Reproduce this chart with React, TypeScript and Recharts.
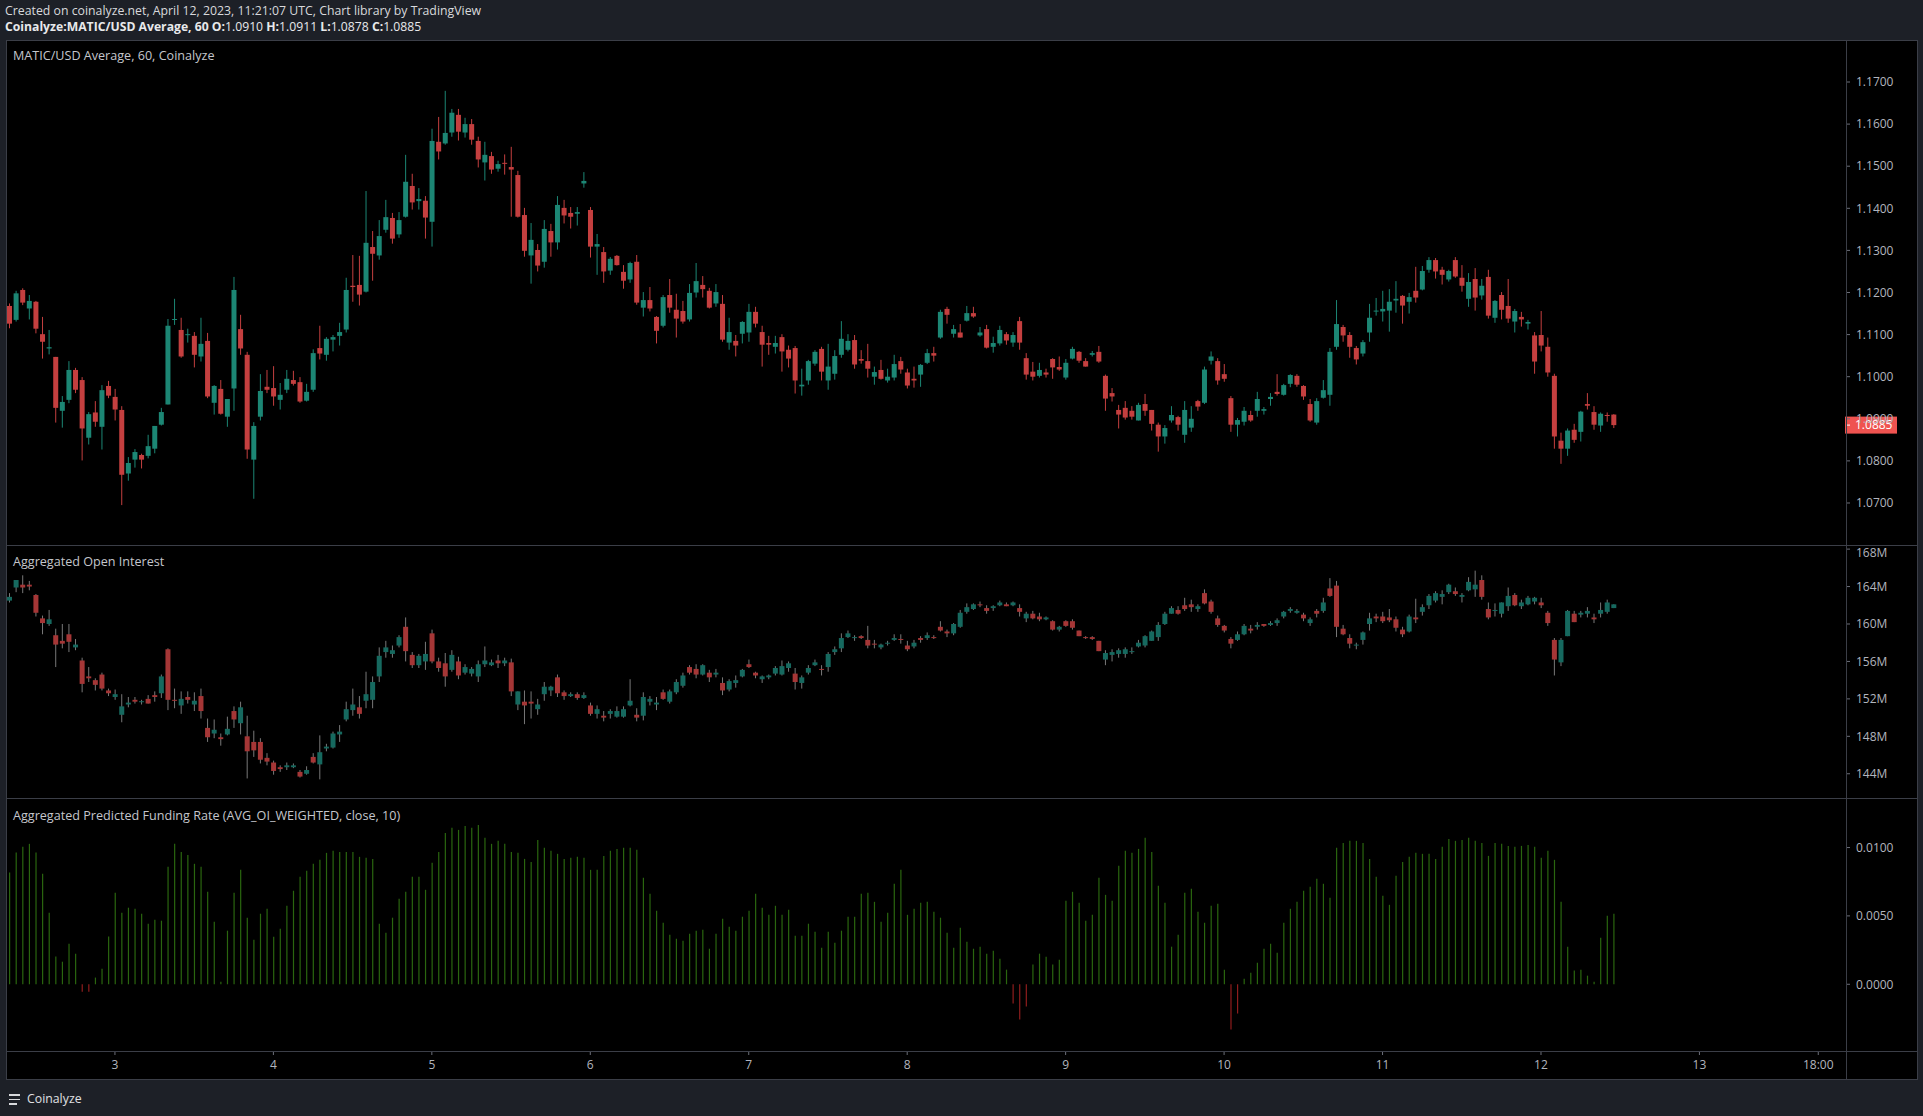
import { ComposedChart, Bar, XAxis, YAxis, Cell } from 'recharts';

// MATIC/USD Average, 1h candles, Apr 2 08:00 -> Apr 12 11:00 UTC (index 0 = Apr 2 08:00)
const priceOpen = [
  1.1168,1.1135,1.1206,1.1162,1.1178,1.1101,1.1067,1.1047,1.0919,1.0945,
  1.1016,1.0992,1.0855,1.0915,1.0881,1.0978,1.0952,1.0921,1.0770,1.0803,
  1.0814,1.0812,1.0829,1.0886,1.0934,1.1135,1.1111,1.1100,1.1097,1.1048,
  1.1085,1.0938,1.0971,1.0905,1.0972,1.1113,1.1052,1.0803,1.0905,1.0976,
  1.0973,1.0945,1.0969,1.0992,1.0987,1.0943,1.0969,1.1068,1.1052,1.1088,
  1.1097,1.1112,1.1216,1.1218,1.1202,1.1308,1.1288,1.1349,1.1377,1.1338,
  1.1380,1.1453,1.1417,1.1418,1.1368,1.1558,1.1554,1.1580,1.1622,1.1580,
  1.1600,1.1560,1.1509,1.1524,1.1494,1.1508,1.1498,1.1479,1.1384,1.1288,
  1.1301,1.1273,1.1346,1.1319,1.1401,1.1389,1.1387,1.1459,1.1396,1.1309,
  1.1296,1.1252,1.1287,1.1249,1.1231,1.1273,1.1164,1.1182,1.1142,1.1121,
  1.1194,1.1159,1.1156,1.1136,1.1200,1.1218,1.1204,1.1174,1.1173,1.1081,
  1.1085,1.1102,1.1105,1.1154,1.1106,1.1080,1.1071,1.1094,1.1064,1.1068,
  1.0977,1.0991,1.1031,1.1066,1.0991,1.1007,1.1052,1.1064,1.1087,1.1042,
  1.1037,1.1000,1.1016,1.0991,1.0998,1.1037,1.1010,1.0995,1.1005,1.1033,
  1.1056,1.1093,1.1161,1.1102,1.1105,1.1133,1.1151,1.1098,1.1113,1.1071,
  1.1079,1.1101,1.1081,1.1132,1.1044,1.1012,1.1002,1.1010,1.1042,1.1023,
  1.0998,1.1043,1.1059,1.1037,1.1052,1.1059,1.1002,1.0961,1.0921,1.0926,
  1.0919,1.0896,1.0935,1.0921,1.0886,1.0858,1.0896,1.0904,1.0862,1.0879,
  1.0942,1.0938,1.1038,1.1037,1.1006,1.0949,1.0886,1.0893,1.0909,1.0919,
  1.0919,1.0947,1.0964,1.0957,1.0983,1.1002,1.0978,1.0935,1.0891,1.0950,
  1.0957,1.1071,1.1118,1.1099,1.1068,1.1055,1.1105,1.1155,1.1155,1.1157,
  1.1181,1.1192,1.1178,1.1204,1.1207,1.1254,1.1277,1.1254,1.1231,1.1277,
  1.1235,1.1185,1.1232,1.1193,1.1237,1.1140,1.1194,1.1168,1.1131,1.1142,
  1.1126,1.1098,1.1099,1.1071,1.1002,1.0848,1.0829,1.0874,1.0869,1.0935,
  1.0916,1.0884,1.0909,1.0910,
];
const priceHigh = [
  1.1174,1.1204,1.1210,1.1194,1.1180,1.1142,1.1111,1.1047,1.0954,1.1037,
  1.1021,1.0999,1.0916,1.0942,1.0980,1.0990,1.0971,1.0930,1.0809,1.0828,
  1.0817,1.0862,1.0883,1.0926,1.1137,1.1185,1.1140,1.1114,1.1106,1.1140,
  1.1104,1.0980,1.0992,1.0947,1.1237,1.1147,1.1059,1.0892,1.1006,1.1016,
  1.1025,1.0985,1.1016,1.1014,1.0999,1.0983,1.1065,1.1121,1.1094,1.1099,
  1.1128,1.1235,1.1289,1.1287,1.1441,1.1346,1.1372,1.1420,1.1389,1.1391,
  1.1527,1.1482,1.1448,1.1429,1.1589,1.1617,1.1679,1.1636,1.1636,1.1615,
  1.1612,1.1570,1.1558,1.1534,1.1513,1.1528,1.1546,1.1489,1.1401,1.1365,
  1.1315,1.1372,1.1363,1.1429,1.1420,1.1403,1.1403,1.1486,1.1403,1.1339,
  1.1308,1.1284,1.1289,1.1265,1.1273,1.1289,1.1201,1.1213,1.1144,1.1194,
  1.1232,1.1197,1.1180,1.1220,1.1270,1.1239,1.1211,1.1220,1.1194,1.1140,
  1.1099,1.1132,1.1173,1.1166,1.1121,1.1097,1.1097,1.1101,1.1074,1.1073,
  1.1019,1.1040,1.1063,1.1071,1.1078,1.1063,1.1132,1.1101,1.1099,1.1063,
  1.1078,1.1024,1.1040,1.1019,1.1052,1.1047,1.1019,1.1024,1.1030,1.1066,
  1.1071,1.1159,1.1166,1.1123,1.1125,1.1168,1.1166,1.1118,1.1123,1.1095,
  1.1121,1.1106,1.1106,1.1142,1.1056,1.1035,1.1033,1.1019,1.1044,1.1048,
  1.1042,1.1071,1.1061,1.1044,1.1061,1.1073,1.1005,1.0973,1.0933,1.0942,
  1.0930,1.0938,1.0959,1.0921,1.0891,1.0885,1.0930,1.0907,1.0942,1.0930,
  1.0945,1.1024,1.1060,1.1044,1.1030,1.0954,1.0902,1.0928,1.0919,1.0964,
  1.0928,1.0961,1.1006,1.0983,1.1006,1.1006,1.0980,1.0947,1.0949,1.0992,
  1.1068,1.1182,1.1123,1.1106,1.1073,1.1087,1.1173,1.1187,1.1204,1.1208,
  1.1227,1.1194,1.1199,1.1261,1.1263,1.1284,1.1282,1.1261,1.1254,1.1284,
  1.1265,1.1246,1.1258,1.1232,1.1254,1.1182,1.1201,1.1232,1.1161,1.1154,
  1.1135,1.1106,1.1156,1.1093,1.1007,1.0867,1.0877,1.0888,1.0919,1.0961,
  1.0930,1.0915,1.0915,1.0911,
];
const priceLow = [
  1.1115,1.1131,1.1170,1.1136,1.1103,1.1043,1.1053,1.0891,1.0879,1.0937,
  1.0961,1.0801,1.0839,1.0881,1.0827,1.0949,1.0896,1.0695,1.0753,1.0784,
  1.0782,1.0806,1.0818,1.0884,1.0934,1.1123,1.1045,1.1081,1.1022,1.1036,
  1.0949,1.0910,1.0910,1.0881,1.0919,1.1052,1.0805,1.0710,1.0896,1.0961,
  1.0931,1.0922,1.0961,1.0979,1.0938,1.0941,1.0964,1.1041,1.1038,1.1060,
  1.1074,1.1105,1.1178,1.1169,1.1200,1.1228,1.1278,1.1342,1.1316,1.1330,
  1.1378,1.1397,1.1397,1.1328,1.1309,1.1516,1.1551,1.1570,1.1561,1.1568,
  1.1551,1.1497,1.1466,1.1482,1.1487,1.1480,1.1380,1.1378,1.1285,1.1221,
  1.1250,1.1259,1.1285,1.1302,1.1364,1.1352,1.1359,1.1449,1.1283,1.1242,
  1.1223,1.1242,1.1264,1.1209,1.1223,1.1171,1.1143,1.1155,1.1079,1.1117,
  1.1152,1.1093,1.1126,1.1131,1.1188,1.1188,1.1162,1.1166,1.1083,1.1064,
  1.1048,1.1079,1.1083,1.1117,1.1024,1.1052,1.1055,1.1012,1.1022,1.0960,
  1.0955,1.0981,1.1026,1.0991,1.0969,1.0993,1.1045,1.1060,1.1019,1.1031,
  1.0998,1.0981,1.0993,1.0986,1.0991,1.1007,1.0972,1.0974,1.0976,1.1030,
  1.1036,1.1090,1.1126,1.1093,1.1093,1.1131,1.1140,1.1095,1.1067,1.1057,
  1.1074,1.1076,1.1071,1.1064,1.0993,1.0991,1.0998,1.0998,1.0995,1.1014,
  1.0993,1.1041,1.1033,1.1024,1.1048,1.1033,1.0919,1.0941,1.0877,1.0898,
  1.0898,1.0896,1.0907,1.0872,1.0822,1.0841,1.0891,1.0872,1.0843,1.0869,
  1.0919,1.0935,1.1029,1.0981,1.0988,1.0869,1.0858,1.0884,1.0893,1.0905,
  1.0910,1.0931,1.0955,1.0955,1.0975,1.0976,1.0945,1.0893,1.0886,1.0948,
  1.0931,1.1064,1.1083,1.1045,1.1029,1.1048,1.1083,1.1145,1.1131,1.1107,
  1.1152,1.1126,1.1150,1.1176,1.1205,1.1247,1.1233,1.1219,1.1226,1.1235,
  1.1202,1.1166,1.1157,1.1183,1.1138,1.1128,1.1136,1.1128,1.1105,1.1119,
  1.1112,1.1007,1.1060,1.1000,1.0829,1.0793,1.0812,1.0843,1.0846,1.0922,
  1.0874,1.0869,1.0893,1.0878,
];
const priceClose = [
  1.1126,1.1198,1.1176,1.1180,1.1114,1.1083,1.1070,1.0926,1.0940,1.1016,
  1.0969,1.0877,1.0911,1.0893,1.0968,1.0955,1.0922,1.0767,1.0795,1.0821,
  1.0803,1.0835,1.0883,1.0916,1.1121,1.1137,1.1048,1.1101,1.1052,1.1078,
  1.0953,1.0978,1.0912,1.0947,1.1206,1.1067,1.0827,1.0883,1.0966,1.0969,
  1.0953,1.0957,1.0995,1.0983,1.0941,1.0964,1.1056,1.1055,1.1090,1.1094,
  1.1106,1.1206,1.1213,1.1195,1.1318,1.1292,1.1334,1.1379,1.1328,1.1372,
  1.1463,1.1414,1.1422,1.1378,1.1560,1.1535,1.1579,1.1627,1.1582,1.1600,
  1.1563,1.1516,1.1527,1.1492,1.1505,1.1506,1.1492,1.1380,1.1299,1.1325,
  1.1264,1.1351,1.1319,1.1408,1.1383,1.1380,1.1391,1.1465,1.1309,1.1315,
  1.1250,1.1280,1.1265,1.1228,1.1270,1.1176,1.1182,1.1162,1.1109,1.1189,
  1.1164,1.1138,1.1131,1.1199,1.1227,1.1208,1.1164,1.1201,1.1088,1.1106,
  1.1074,1.1130,1.1154,1.1126,1.1076,1.1076,1.1080,1.1060,1.1043,1.0991,
  1.0981,1.1037,1.1059,1.1012,1.1024,1.1049,1.1090,1.1085,1.1029,1.1038,
  1.1019,1.1011,1.0995,1.1000,1.1030,1.1017,1.0979,1.0991,1.1028,1.1056,
  1.1050,1.1154,1.1147,1.1113,1.1093,1.1151,1.1143,1.1105,1.1069,1.1080,
  1.1111,1.1086,1.1099,1.1081,1.1005,1.1000,1.1016,1.1005,1.1022,1.1017,
  1.1033,1.1066,1.1038,1.1024,1.1056,1.1036,1.0948,1.0953,1.0910,1.0903,
  1.0905,1.0933,1.0919,1.0888,1.0858,1.0878,1.0909,1.0886,1.0921,1.0900,
  1.0929,1.1017,1.1048,1.0991,1.0995,1.0886,1.0897,1.0919,1.0896,1.0947,
  1.0923,1.0952,1.0959,1.0980,1.1004,1.0981,1.0953,1.0896,1.0942,1.0968,
  1.1059,1.1125,1.1098,1.1071,1.1041,1.1082,1.1140,1.1157,1.1161,1.1178,
  1.1185,1.1169,1.1189,1.1188,1.1251,1.1277,1.1250,1.1242,1.1251,1.1238,
  1.1216,1.1225,1.1188,1.1216,1.1145,1.1180,1.1159,1.1138,1.1156,1.1136,
  1.1130,1.1036,1.1074,1.1010,1.0858,1.0829,1.0872,1.0850,1.0917,1.0931,
  1.0886,1.0912,1.0907,1.0885,
];

// Aggregated open interest, millions
const oiOpen = [
  162.5,163.9,164.2,164.2,163.1,160.6,160.0,158.8,158.2,158.9,
  157.5,156.1,154.4,154.0,154.6,152.9,152.2,150.3,151.4,151.9,
  151.7,152.0,152.4,152.6,157.3,151.9,151.3,152.2,151.4,152.3,
  148.9,148.3,147.9,148.2,150.7,149.4,148.0,147.4,147.4,145.7,
  145.2,144.7,144.7,144.7,144.2,144.0,145.8,145.0,146.7,146.8,
  148.2,149.8,150.8,151.1,151.8,151.9,154.4,157.0,156.8,157.7,
  159.7,156.7,155.6,156.0,159.0,156.0,155.8,155.1,156.0,154.8,
  154.7,154.4,155.7,155.6,156.1,155.8,155.9,151.4,151.7,151.7,
  150.9,152.5,152.9,154.3,152.7,152.3,152.5,152.1,151.3,150.4,
  150.2,150.4,150.1,150.1,151.3,150.3,150.2,151.7,151.4,152.7,
  151.7,152.7,153.4,155.4,155.2,154.6,154.8,154.6,153.7,153.0,
  153.7,154.4,155.7,154.8,154.1,154.3,154.7,154.6,155.3,154.7,
  153.7,154.8,155.6,155.2,155.4,157.0,157.4,158.6,158.5,158.7,
  158.3,157.9,157.5,157.9,158.3,158.4,157.7,157.6,158.5,158.5,
  158.6,159.7,159.2,159.0,159.7,161.3,161.6,162.1,161.7,161.7,
  162.0,162.1,162.0,161.7,160.6,161.1,160.8,160.5,160.3,159.4,
  160.3,160.3,159.3,158.6,158.6,158.2,156.2,156.7,156.8,156.8,
  157.0,157.6,157.7,158.2,158.6,160.0,161.1,161.5,162.0,162.1,
  161.6,163.3,162.4,160.6,159.8,158.4,158.3,158.9,159.5,159.7,
  160.0,159.9,160.1,160.8,161.4,161.2,161.0,160.1,161.4,161.4,
  163.8,164.1,159.5,158.5,157.7,158.3,160.0,160.8,160.8,160.7,
  160.5,159.4,159.2,160.7,161.3,162.0,162.5,162.9,163.4,163.5,
  162.9,163.6,163.7,164.7,161.6,161.4,161.1,161.9,163.1,161.9,
  162.1,162.4,162.3,161.2,158.3,155.9,158.7,161.1,161.0,161.1,
  160.7,161.1,161.3,161.7,
];
const oiHigh = [
  163.3,164.7,165.2,164.6,163.2,160.9,161.5,159.5,160.0,160.0,
  158.4,156.4,155.4,154.2,154.8,153.1,153.0,152.5,152.2,152.2,
  151.9,152.4,152.8,154.6,157.4,153.1,152.8,152.8,152.7,153.1,
  149.9,149.8,148.3,150.1,151.2,151.7,150.2,148.6,147.8,146.2,
  145.4,144.9,145.2,145.1,144.4,144.8,146.2,148.1,147.2,148.5,
  149.2,151.7,153.1,152.3,154.9,154.4,157.5,158.2,157.7,158.8,
  160.7,157.0,156.8,158.1,159.4,156.4,156.9,157.2,156.5,155.7,
  155.4,156.1,157.6,156.2,156.7,156.4,156.3,152.8,152.9,152.8,
  152.0,153.8,153.4,154.6,152.9,152.7,152.7,152.7,151.6,151.3,
  150.7,150.9,151.2,151.2,154.1,151.0,152.7,152.3,152.2,153.0,
  153.0,154.1,154.8,155.6,155.7,155.7,155.1,155.2,154.3,154.1,
  154.5,155.2,156.2,154.9,154.5,154.6,155.5,156.1,156.0,155.3,
  154.5,155.6,156.2,155.6,157.0,157.6,159.0,159.3,158.8,158.8,
  159.8,158.3,157.9,158.2,158.9,158.9,158.2,158.3,158.7,159.1,
  158.8,160.3,159.4,160.1,161.5,162.2,162.2,162.4,162.0,162.0,
  162.5,162.3,162.4,162.1,161.3,161.4,161.2,160.8,160.4,159.8,
  160.4,160.5,159.3,158.7,158.7,158.2,157.2,157.3,157.4,157.5,
  157.5,158.3,158.8,159.3,160.2,161.3,161.9,161.9,162.8,162.6,
  162.1,163.7,162.6,160.9,159.9,158.6,159.2,160.0,159.9,160.2,
  160.0,160.3,160.6,161.4,161.8,161.6,161.2,160.7,161.6,162.8,
  164.9,164.6,159.9,158.9,158.0,159.2,161.2,161.1,161.3,161.6,
  160.8,159.7,161.0,162.7,162.1,163.2,163.5,163.6,164.3,163.9,
  163.3,165.0,165.7,165.2,162.3,162.2,162.3,163.9,163.3,162.6,
  163.0,162.9,162.8,161.4,158.5,158.5,161.5,161.4,161.4,161.8,
  161.1,162.3,162.6,162.1,
];
const oiLow = [
  162.3,163.4,163.3,163.6,160.8,158.9,159.8,155.4,157.4,157.0,
  157.2,152.7,153.8,152.9,152.9,152.3,151.9,149.5,151.1,151.5,
  151.4,151.5,151.7,152.1,150.8,151.0,150.4,151.5,150.7,149.9,
  147.4,147.8,147.0,148.1,148.9,148.2,143.5,145.8,145.1,144.9,
  143.9,144.2,144.4,144.6,143.6,143.9,145.1,143.4,146.4,146.7,
  147.4,149.6,150.2,149.9,151.0,151.0,153.8,156.4,156.4,157.5,
  156.0,155.3,155.3,155.1,155.8,154.9,153.3,154.9,154.1,154.6,
  154.4,153.8,155.4,155.5,155.3,155.5,152.3,150.8,149.3,149.9,
  150.3,151.8,152.3,152.2,151.9,152.2,151.9,152.0,150.2,149.9,
  149.6,149.9,150.0,150.0,151.2,149.6,149.7,151.3,150.8,151.9,
  151.5,152.5,153.2,154.6,154.2,154.5,153.8,154.3,152.4,152.8,
  153.2,154.3,155.3,154.2,153.7,154.1,154.5,154.5,154.9,153.0,
  153.1,154.6,155.5,154.5,154.9,156.7,157.0,158.5,158.2,158.4,
  157.4,157.4,157.3,157.7,158.2,157.9,157.1,157.4,158.0,158.3,
  158.4,159.2,158.6,158.8,159.6,161.1,161.5,161.8,161.1,161.4,
  161.9,161.9,161.9,160.8,160.2,160.5,160.3,160.4,159.3,159.2,
  159.7,159.4,158.7,158.4,158.3,157.1,155.6,156.0,156.4,156.4,
  156.8,157.5,157.5,158.2,158.2,159.9,161.1,161.0,161.4,161.3,
  161.3,162.1,161.1,159.7,159.1,157.4,158.2,158.8,159.0,159.4,
  159.7,159.8,159.8,160.6,161.2,161.1,160.3,159.8,160.7,161.2,
  162.9,158.6,158.8,157.4,157.3,157.8,159.3,160.2,160.1,160.2,
  159.2,158.6,159.1,160.1,160.9,161.6,162.3,162.1,163.2,163.0,
  162.3,163.5,162.9,162.6,160.5,160.8,160.7,161.4,161.9,161.6,
  162.0,162.1,161.7,159.8,154.5,155.5,158.7,160.2,160.7,160.7,
  160.1,160.7,161.1,161.7,
];
const oiClose = [
  162.9,164.7,163.9,164.0,161.2,160.1,160.5,157.8,157.9,158.1,
  157.8,153.6,154.2,153.5,153.1,152.6,152.5,151.2,151.6,151.7,
  151.75,151.5,152.2,154.4,151.9,151.8,152.0,151.9,151.8,150.7,
  147.9,148.7,147.7,148.8,149.8,151.1,146.4,146.5,145.5,145.3,
  144.3,144.5,144.9,144.9,143.7,144.4,145.2,146.3,146.9,148.3,
  148.5,150.9,151.4,150.4,152.5,153.8,156.6,157.5,157.2,158.6,
  157.1,155.6,156.6,156.8,156.0,155.3,154.4,156.7,154.5,155.4,
  155.2,155.7,156.1,155.9,155.8,156.1,152.8,152.8,151.3,151.5,
  151.4,153.3,153.3,152.6,152.3,152.5,152.1,152.4,150.4,150.9,
  150.0,150.7,150.7,150.9,151.8,150.0,152.2,152.0,151.6,152.0,
  152.8,153.8,154.5,154.8,154.6,155.6,154.3,154.8,152.9,153.9,
  154.0,155.1,155.4,154.5,154.4,154.5,155.3,155.5,155.8,153.8,
  154.3,155.3,155.9,155.1,156.8,157.3,158.5,159.0,158.6,158.5,
  157.7,157.8,157.8,158.0,158.5,158.3,157.3,158.0,158.3,158.8,
  158.5,159.3,159.0,160.0,161.2,161.8,162.1,162.0,161.4,161.9,
  162.3,161.9,162.3,161.3,161.1,160.6,160.5,160.7,159.4,159.7,
  159.8,159.6,158.7,158.5,158.4,157.1,156.9,157.0,157.2,157.3,
  157.1,158.0,158.7,159.2,159.9,161.1,161.7,161.1,161.6,161.8,
  161.9,162.2,161.3,159.9,159.3,157.9,158.9,159.8,159.3,159.9,
  159.8,160.1,160.4,161.3,161.6,161.4,160.6,160.5,161.1,162.3,
  163.0,159.7,158.9,157.9,157.8,159.1,160.6,160.6,160.3,160.4,
  159.6,158.9,160.8,160.5,161.8,163.0,163.3,163.2,164.2,163.2,
  163.1,164.5,164.2,162.9,160.7,161.5,162.3,163.0,162.0,162.3,
  162.8,162.8,162.0,160.1,156.2,158.3,161.4,160.2,161.2,161.4,
  160.5,161.5,162.3,162.1,
];

// Aggregated predicted funding rate (AVG_OI_WEIGHTED, close, 10)
const fundingRate = [
  0.00817,0.00963,0.01005,0.01027,0.00963,0.00808,0.00523,0.00204,0.00165,0.00297,
  0.00224,-0.00054,-0.00054,0.00049,0.00114,0.00350,0.00669,0.00523,0.00560,0.00552,
  0.00516,0.00443,0.00472,0.00465,0.00859,0.01027,0.00968,0.00946,0.00881,0.00859,
  0.00676,0.00457,0.00019,0.00392,0.00669,0.00837,0.00487,0.00326,0.00516,0.00552,
  0.00348,0.00406,0.00574,0.00684,0.00786,0.00830,0.00881,0.00910,0.00961,0.00976,
  0.00968,0.00968,0.00968,0.00932,0.00925,0.00917,0.00443,0.00377,0.00487,0.00625,
  0.00676,0.00786,0.00786,0.00691,0.00888,0.00968,0.01107,0.01144,0.01129,0.01158,
  0.01144,0.01165,0.01071,0.01027,0.01049,0.01027,0.00968,0.00961,0.00917,0.00895,
  0.01056,0.00998,0.00976,0.00954,0.00917,0.00925,0.00932,0.00925,0.00837,0.00837,
  0.00939,0.00976,0.00990,0.00998,0.00998,0.00983,0.00779,0.00662,0.00538,0.00450,
  0.00363,0.00333,0.00319,0.00370,0.00392,0.00399,0.00260,0.00370,0.00479,0.00421,
  0.00392,0.00494,0.00538,0.00662,0.00560,0.00508,0.00574,0.00508,0.00545,0.00355,
  0.00355,0.00443,0.00384,0.00268,0.00384,0.00304,0.00392,0.00494,0.00494,0.00662,
  0.00669,0.00603,0.00457,0.00523,0.00735,0.00837,0.00508,0.00552,0.00596,0.00603,
  0.00530,0.00487,0.00377,0.00268,0.00414,0.00311,0.00260,0.00275,0.00224,0.00246,
  0.00187,0.00107,-0.00141,-0.00258,-0.00163,0.00144,0.00224,0.00202,0.00144,0.00180,
  0.00611,0.00676,0.00596,0.00465,0.00508,0.00779,0.00654,0.00611,0.00866,0.00976,
  0.00961,0.00990,0.01071,0.00968,0.00720,0.00596,0.00275,0.00363,0.00669,0.00698,
  0.00530,0.00450,0.00574,0.00589,0.00107,-0.00331,-0.00214,0.00041,0.00085,0.00158,
  0.00260,0.00297,0.00231,0.00450,0.00552,0.00603,0.00684,0.00713,0.00771,0.00735,
  0.00633,0.00998,0.01034,0.01049,0.01049,0.01034,0.00917,0.00786,0.00647,0.00581,
  0.00793,0.00895,0.00932,0.00961,0.00954,0.00954,0.00917,0.01005,0.01063,0.01049,
  0.01056,0.01071,0.01049,0.01034,0.00939,0.01034,0.01027,0.01012,0.01005,0.01012,
  0.01019,0.01005,0.00925,0.00976,0.00910,0.00603,0.00275,0.00100,0.00107,0.00063,
  0.00019,0.00341,0.00501,0.00516,
];

const priceTicks = [1.07, 1.08, 1.09, 1.1, 1.11, 1.12, 1.13, 1.14, 1.15, 1.16, 1.17];
const oiTicks = [144, 148, 152, 156, 160, 164, 168];
const fundingTicks = [0, 0.005, 0.01];
// hour index of each time-axis label
const timeTicks = [16, 40, 64, 88, 112, 136, 160, 184, 208, 232, 256, 274];
const timeLabels = ['3', '4', '5', '6', '7', '8', '9', '10', '11', '12', '13', '18:00'];

const FONT = "'Open Sans', 'Noto Sans', sans-serif";
const PAGE_BG = '#1d2027';
const LINE = '#3b3e47';
const AXIS_TEXT = '#b2b5be';
const UP = '#1c8674';
const DOWN = '#c43f3f';
const OI_UP = '#16695f';
const OI_DOWN = '#a53636';
const OI_WICK = '#787878';
const FUND_UP = '#2a660f';
const FUND_DOWN = '#8e1d1d';
const LAST_RED = '#ef5350';
const AXIS_X = 1846;
const X_DOMAIN: [number, number] = [-0.35, 278.2];
const CHART_W = 1917;

type Row = { i: number; o: number; h: number; l: number; c: number };

const priceRows: Row[] = priceClose.map((c, i) => ({ i, o: priceOpen[i], h: priceHigh[i], l: priceLow[i], c }));
const oiRows: Row[] = oiClose.map((c, i) => ({ i, o: oiOpen[i], h: oiHigh[i], l: oiLow[i], c }));
const fundingRows = fundingRate.map((r, i) => ({ i, r }));

const makeCandle = (up: string, down: string, wickUp: string | null, wickDown: string | null, lastLabel: boolean) =>
  (props: any) => {
    const { x, y, width, height, payload } = props;
    if (!payload) return <g />;
    const { o, h, l, c, i } = payload as Row;
    const span = h - l;
    const toY = (v: number) => (span === 0 ? y : y + ((h - v) / span) * height);
    const isUp = c >= o;
    const color = isUp ? up : down;
    const wick = isUp ? wickUp || up : wickDown || down;
    const cx = x + width / 2;
    const top = toY(Math.max(o, c));
    const bot = toY(Math.min(o, c));
    const bodyH = Math.max(1, bot - top);
    return (
      <g>
        <line x1={cx} x2={cx} y1={y} y2={y + height} stroke={wick} strokeWidth={1} />
        <rect x={x} y={top} width={width} height={bodyH} fill={color} />
        {lastLabel && i === priceRows.length - 1 && (
          <g>
            <rect x={AXIS_X - 1} y={toY(c) - 8.5} width={52} height={17} fill={LAST_RED} />
            <line x1={AXIS_X} x2={AXIS_X + 4} y1={toY(c)} y2={toY(c)} stroke="#ffffff" />
            <text x={AXIS_X + 9} y={toY(c)} dy="0.36em" fill="#ffffff" fontSize={12} fontFamily={FONT}>
              {c.toFixed(4)}
            </text>
          </g>
        )}
      </g>
    );
  };

const PriceCandle = makeCandle(UP, DOWN, null, null, true);
const OiCandle = makeCandle(OI_UP, OI_DOWN, OI_WICK, OI_WICK, false);

const tickStyle = { fill: AXIS_TEXT, fontSize: 12, fontFamily: FONT };

const abs = (left: number, top: number, extra: any = {}) => ({ position: 'absolute' as const, left, top, ...extra });

export default function App() {
  return (
    <div style={{ position: 'relative', width: 1923, height: 1116, background: PAGE_BG, overflow: 'hidden', fontFamily: FONT }}>
      <style>{`body{margin:0;background:${PAGE_BG};}`}</style>

      <div style={abs(5, 2, { color: '#d8d9dc', fontSize: 12.3, lineHeight: '17px', whiteSpace: 'nowrap' })}>
        Created on coinalyze.net, April 12, 2023, 11:21:07 UTC, Chart library by TradingView
      </div>
      <div style={abs(5, 18, { color: '#e8e9eb', fontSize: 12.2, lineHeight: '17px', whiteSpace: 'nowrap' })}>
        <b>Coinalyze:MATIC/USD Average, 60 O:</b>1.0910 <b>H:</b>1.0911 <b>L:</b>1.0878 <b>C:</b>1.0885
      </div>

      <div style={abs(6, 40, { width: 1911, height: 1039, background: '#000000' })} />

      <div style={abs(0, 41)}>
        <ComposedChart width={CHART_W} height={504} data={priceRows} margin={{ top: 0, right: 0, bottom: 0, left: 7 }}>
          <XAxis dataKey="i" type="number" domain={X_DOMAIN} hide />
          <YAxis
            orientation="right"
            width={71}
            domain={[1.06002, 1.17974]}
            ticks={priceTicks}
            tickFormatter={(v: number) => v.toFixed(4)}
            axisLine={false}
            tickLine={{ stroke: '#6b6e78' }}
            tickSize={4}
            tickMargin={6}
            tick={tickStyle}
          />
          <Bar dataKey={(d: Row) => [d.l, d.h]} barSize={5} shape={PriceCandle} isAnimationActive={false} />
        </ComposedChart>
      </div>

      <div style={abs(0, 545)}>
        <ComposedChart width={CHART_W} height={253} data={oiRows} margin={{ top: 0, right: 0, bottom: 0, left: 7 }}>
          <XAxis dataKey="i" type="number" domain={X_DOMAIN} hide />
          <YAxis
            orientation="right"
            width={71}
            domain={[141.41, 168.44]}
            ticks={oiTicks}
            tickFormatter={(v: number) => `${v}M`}
            axisLine={false}
            tickLine={{ stroke: '#6b6e78' }}
            tickSize={4}
            tickMargin={6}
            tick={tickStyle}
          />
          <Bar dataKey={(d: Row) => [d.l, d.h]} barSize={5} shape={OiCandle} isAnimationActive={false} />
        </ComposedChart>
      </div>

      <div style={abs(0, 798)}>
        <ComposedChart width={CHART_W} height={281} data={fundingRows} margin={{ top: 0, right: 0, bottom: 0, left: 7 }}>
          <XAxis
            dataKey="i"
            type="number"
            domain={X_DOMAIN}
            ticks={timeTicks}
            tickFormatter={(v: number) => timeLabels[timeTicks.indexOf(v)] ?? ''}
            height={28}
            axisLine={false}
            tickLine={{ stroke: '#6b6e78' }}
            tickSize={4}
            tickMargin={5}
            tick={tickStyle}
            interval={0}
          />
          <YAxis
            orientation="right"
            width={71}
            domain={[-0.00488, 0.013623]}
            ticks={fundingTicks}
            tickFormatter={(v: number) => v.toFixed(4)}
            axisLine={false}
            tickLine={{ stroke: '#6b6e78' }}
            tickSize={4}
            tickMargin={6}
            tick={tickStyle}
          />
          <Bar dataKey="r" barSize={1.2} isAnimationActive={false}>
            {fundingRows.map((d) => (
              <Cell key={d.i} fill={d.r >= 0 ? FUND_UP : FUND_DOWN} />
            ))}
          </Bar>
        </ComposedChart>
      </div>

      {/* pane borders */}
      <div style={abs(6, 40, { width: 1912, height: 1040, border: `1px solid ${LINE}`, boxSizing: 'border-box', pointerEvents: 'none' })} />
      <div style={abs(6, 545, { width: 1912, height: 1, background: LINE })} />
      <div style={abs(6, 798, { width: 1912, height: 1, background: LINE })} />
      <div style={abs(6, 1051, { width: 1912, height: 1, background: LINE })} />
      <div style={abs(AXIS_X, 40, { width: 1, height: 1040, background: LINE })} />

      {/* pane titles */}
      <div style={abs(13, 48, { color: '#c4c6cc', fontSize: 12.6, lineHeight: '16px', whiteSpace: 'nowrap' })}>
        MATIC/USD Average, 60, Coinalyze
      </div>
      <div style={abs(13, 554, { color: '#c4c6cc', fontSize: 12.6, lineHeight: '16px', whiteSpace: 'nowrap' })}>
        Aggregated Open Interest
      </div>
      <div style={abs(13, 808, { color: '#c4c6cc', fontSize: 12.6, lineHeight: '16px', whiteSpace: 'nowrap' })}>
        Aggregated Predicted Funding Rate (AVG_OI_WEIGHTED, close, 10)
      </div>

      {/* bottom bar */}
      <div style={abs(9, 1094, { width: 11, height: 1.5, background: '#d8d9dc' })} />
      <div style={abs(9, 1098.5, { width: 11, height: 1.5, background: '#d8d9dc' })} />
      <div style={abs(9, 1103, { width: 8, height: 1.5, background: '#d8d9dc' })} />
      <div style={abs(27, 1090, { color: '#e0e1e4', fontSize: 12.3, lineHeight: '17px', whiteSpace: 'nowrap' })}>
        Coinalyze
      </div>
    </div>
  );
}
